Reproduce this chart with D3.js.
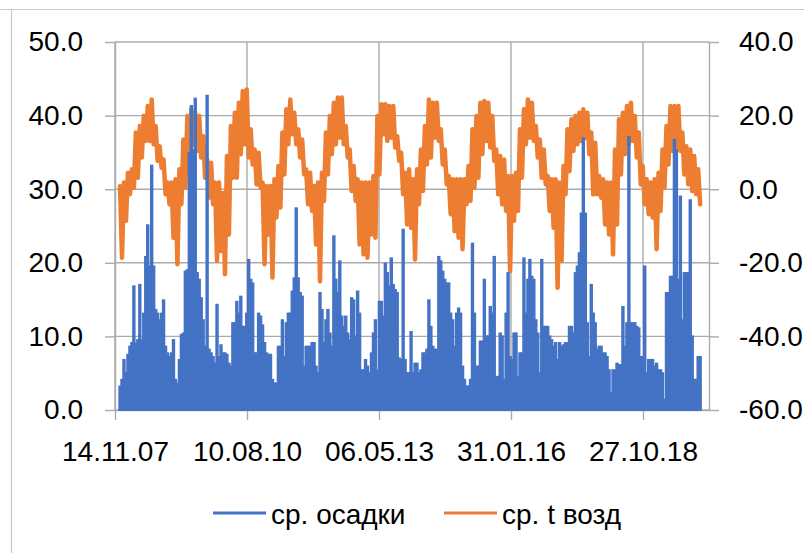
<!DOCTYPE html>
<html>
<head>
<meta charset="utf-8">
<script src="https://cdn.jsdelivr.net/npm/d3@7"></script>
<style>
  html, body { margin: 0; padding: 0; background: #fff; }
  svg { display: block; }
  text { font-family: "Liberation Sans", Arial, sans-serif; font-size: 28px; fill: #000; }
</style>
</head>
<body>
<svg id="chart" width="804" height="553"></svg>
<script>
// Series names (legend)
const seriesNames = ["ср. осадки", "ср. t возд"];

// First observation and sampling interval (days)
const firstDay = "2007-12-22";
const precipStepDays = 15;
const tempStepDays = 30;

// Precipitation, left axis (one value per 15 days, peak of the period)
const precip = [
  3.2,4.1,6.8,5.0,7.5,8.6,9.1,16.8,9.0,9.5,
  17.0,9.5,13.1,20.8,25.1,19.5,33.2,19.5,13.6,13.1,
  12.2,13.1,14.9,8.6,7.7,7.2,7.7,9.5,4.1,3.6,
  6.8,10.2,10.4,18.8,19.0,34.9,41.3,35.3,42.3,18.6,
  17.7,15.2,12.2,8.6,42.7,8.2,7.7,7.2,6.3,14.3,
  7.2,8.8,7.7,7.7,7.5,6.3,5.9,11.8,11.8,14.7,
  13.1,15.4,11.3,11.3,13.1,20.4,17.7,17.2,7.7,7.7,
  13.1,12.7,11.5,9.1,7.7,7.5,7.5,4.1,3.6,3.6,
  8.6,8.6,12.2,7.2,11.8,13.1,13.1,16.1,17.9,27.4,
  17.9,15.9,15.4,5.9,8.6,8.6,8.6,9.1,9.1,5.9,
  5.0,15.9,13.6,9.1,12.2,13.6,10.4,8.6,23.6,17.7,
  15.9,20.2,12.7,11.3,12.7,10.4,9.5,15.2,14.9,10.0,
  16.1,13.1,5.4,5.4,6.8,5.9,5.0,7.7,10.4,12.2,
  5.4,14.7,14.7,12.7,19.9,18.6,16.8,20.6,17.0,16.3,
  15.9,7.0,6.8,24.5,6.8,5.0,5.0,10.6,5.0,6.3,
  6.3,5.0,5.4,7.7,7.7,8.2,14.9,11.3,8.6,8.2,
  8.2,20.8,20.2,18.8,17.7,17.2,17.2,13.1,12.2,8.6,
  13.1,13.8,13.1,5.9,4.1,3.2,3.2,4.1,22.6,13.1,
  5.9,5.9,9.3,9.3,17.7,10.0,10.0,14.0,13.1,20.8,
  4.5,4.5,10.4,10.0,4.1,13.1,18.6,7.2,6.8,10.4,
  10.4,4.5,7.7,7.7,20.6,13.1,17.7,20.4,18.1,17.7,
  12.2,10.4,5.0,20.4,11.3,11.3,11.3,10.0,9.5,8.6,
  9.1,6.8,9.1,8.6,8.8,9.1,9.1,11.3,11.3,10.4,
  18.6,19.5,21.3,26.7,36.9,26.7,11.8,7.2,17.0,13.1,
  11.8,8.2,8.6,8.6,7.7,7.7,7.2,5.4,2.3,5.4,
  5.4,6.3,6.1,6.1,14.0,8.6,11.8,37.1,11.8,11.8,
  11.8,11.3,11.1,7.2,7.2,19.5,5.0,6.8,6.8,6.8,
  5.9,6.3,5.4,5.4,5.0,1.4,15.9,15.9,18.1,18.1,
  36.7,35.3,17.7,29.0,12.2,18.6,18.6,18.6,28.5,10.0,
  4.1,4.1,7.2,7.2
];

// Air temperature, right axis: warmest and coldest reading of each 30-day period
const tempHigh = [
  0.8,1.8,4.5,5.4,15.4,17.2,19.9,22.6,24.4,17.2,
  11.7,8.1,1.8,1.8,2.7,5.4,13.5,19.9,21.7,20.8,
  19.9,14.4,8.1,7.2,1.8,1.8,-1.0,9.0,17.2,
  20.8,23.5,26.7,27.1,16.3,10.8,9.9,1.8,0.9,0.9,
  2.7,6.3,15.4,21.7,24.4,20.8,16.3,13.5,5.4,4.5,
  0.9,1.8,4.5,15.4,19.9,23.5,24.9,24.9,17.2,10.8,6.3,
  2.7,1.8,1.8,1.8,3.6,19.9,23.1,23.1,22.6,22.6,
  14.4,9.9,4.5,5.4,2.7,5.4,10.8,17.2,24.4,23.5,
  23.5,16.3,10.8,3.6,2.7,2.7,2.7,2.7,6.3,16.3,
  19.9,23.5,24.0,23.5,19.9,10.8,9.0,8.1,3.6,3.6,
  4.5,16.3,21.7,24.4,23.5,17.2,13.5,10.8,3.6,2.7,
  2.7,1.8,6.3,16.3,19.0,19.9,20.8,21.7,20.8,15.4,
  12.6,3.6,2.7,1.8,1.8,10.8,19.0,20.8,22.6,23.5,
  19.9,15.4,6.3,2.7,1.8,2.7,4.5,10.8,17.2,22.6,
  22.6,22.6,15.4,11.7,10.8,9.0,5.4
];
const tempLow = [
  -18.6,-8.6,-1.4,0.4,3.1,8.6,13.1,13.1,12.2,7.7,
  5.8,-1.4,-4.1,-13.2,-20.4,-4.1,0.4,6.7,12.2,10.4,
  8.6,3.1,-2.3,-4.1,-19.5,-16.8,-23.1,-12.3,3.1,
  3.1,9.5,12.2,8.6,6.7,1.3,0.4,-20.4,-12.3,-24.0,
  -7.7,-5.0,4.0,12.2,14.9,12.2,8.6,4.0,-4.1,-5.9,
  -15.0,-25.0,-3.2,4.0,9.5,12.2,14.0,12.2,8.6,-0.5,-3.2,
  -15.0,-17.7,-18.6,-12.3,-13.2,4.0,14.9,13.1,14.0,11.3,
  7.7,-1.4,-9.6,-10.5,-19.1,-4.1,-0.5,6.7,8.6,14.0,
  13.1,6.7,1.3,-6.8,-11.4,-13.2,-16.3,-4.1,-3.2,0.4,
  3.1,9.5,13.1,11.3,7.7,-1.4,-4.1,-5.9,-22.2,-8.6,
  -5.9,3.1,12.2,14.0,13.1,8.6,3.1,1.3,-5.9,-10.5,
  -26.8,-19.5,-1.4,4.9,10.4,12.2,13.1,14.0,9.5,-1.4,
  -1.4,-2.3,-9.6,-12.3,-17.7,-9.6,4.0,9.5,12.2,13.1,
  8.6,1.3,-4.1,-6.8,-7.7,-16.3,-5.9,0.4,6.7,10.4,
  11.3,10.4,4.0,1.3,-0.5,-1.4,-4.1
];

// Axis ticks
const dateTicks = ["2007-11-14", "2010-08-10", "2013-05-06", "2016-01-31", "2018-10-27"];
const dateRange = ["2007-11-14", "2020-03-10"];
const precipTicks = [0, 10, 20, 30, 40, 50];
const tempTicks = [-60, -40, -20, 0, 20, 40];

const colors = ["#4472C4", "#ED7D31"];
const gridColor = "#ababab";

const parse = d3.utcParse("%Y-%m-%d");
const day0 = parse(firstDay);
const addDays = (d, n) => d3.utcDay.offset(d, n);

const precipData = precip.map((v, i) => ({ date: addDays(day0, i * precipStepDays), v }));
const tempData = [];
tempHigh.forEach((hi, i) => {
  tempData.push({ date: addDays(day0, i * tempStepDays), v: hi });
  tempData.push({ date: addDays(day0, i * tempStepDays + tempStepDays / 2), v: tempLow[i] });
});

const svg = d3.select("#chart");
const plot = { left: 115, right: 709, top: 42, bottom: 410 };

const x = d3.scaleUtc().domain(dateRange.map(parse)).range([plot.left, plot.right]);
const yL = d3.scaleLinear().domain([0, 50]).range([plot.bottom, plot.top]);
const yR = d3.scaleLinear().domain([-60, 40]).range([plot.bottom, plot.top]);

// outer chart frame
svg.append("line").attr("x1", 0).attr("x2", 804).attr("y1", 9.5).attr("y2", 9.5)
  .attr("stroke", "#c8c8c8").attr("stroke-width", 1.2);
svg.append("line").attr("x1", 11.5).attr("x2", 11.5).attr("y1", 9.5).attr("y2", 553)
  .attr("stroke", "#c8c8c8").attr("stroke-width", 1.2);

// gridlines
const grid = svg.append("g").attr("stroke", gridColor).attr("stroke-width", 1.4);
grid.selectAll("line.h").data(precipTicks).join("line").attr("class", "h")
  .attr("x1", plot.left).attr("x2", plot.right)
  .attr("y1", d => yL(d)).attr("y2", d => yL(d));
grid.selectAll("line.v").data(dateTicks.map(parse)).join("line").attr("class", "v")
  .attr("x1", d => x(d)).attr("x2", d => x(d))
  .attr("y1", plot.top).attr("y2", plot.bottom);

function styleAxis(g) {
  g.selectAll("path.domain").attr("stroke", gridColor).attr("stroke-width", 1.4);
  g.selectAll(".tick line").attr("stroke", gridColor).attr("stroke-width", 1.4);
  g.selectAll(".tick text").attr("font-size", 28).attr("font-family", null).attr("fill", "#000");
}

const fmt = d => d.toFixed(1);
svg.append("g").attr("transform", `translate(${plot.left},0)`)
  .call(d3.axisLeft(yL).tickValues(precipTicks).tickFormat(fmt).tickSize(10).tickPadding(22).tickSizeOuter(0))
  .call(styleAxis);
svg.append("g").attr("transform", `translate(${plot.right},0)`)
  .call(d3.axisRight(yR).tickValues(tempTicks).tickFormat(fmt).tickSize(10).tickPadding(20).tickSizeOuter(0))
  .call(styleAxis);
svg.append("g").attr("transform", `translate(0,${plot.bottom})`)
  .call(d3.axisBottom(x).tickValues(dateTicks.map(parse)).tickFormat(d3.utcFormat("%d.%m.%y")).tickSize(10).tickPadding(21).tickSizeOuter(0))
  .call(styleAxis);

// temperature line (right axis)
svg.append("path").datum(tempData)
  .attr("fill", "none").attr("stroke", colors[1]).attr("stroke-width", 4.5)
  .attr("stroke-linejoin", "round").attr("stroke-linecap", "round")
  .attr("d", d3.line().x(d => x(d.date)).y(d => yR(d.v)));

// precipitation (left axis)
const barW = 3.4;
svg.append("g").attr("fill", colors[0])
  .selectAll("rect").data(precipData).join("rect")
  .attr("x", d => x(d.date) - barW / 2)
  .attr("width", barW)
  .attr("y", d => yL(d.v) - 1)
  .attr("height", d => yL(0) - yL(d.v) + 2);

// legend
const legendX = [213, 444];
const legend = svg.append("g");
seriesNames.forEach((name, i) => {
  legend.append("line").attr("x1", legendX[i]).attr("x2", legendX[i] + 53)
    .attr("y1", 513).attr("y2", 513).attr("stroke", colors[i]).attr("stroke-width", 3);
  legend.append("text").attr("x", legendX[i] + 58).attr("y", 524).text(name);
});
</script>
</body>
</html>
